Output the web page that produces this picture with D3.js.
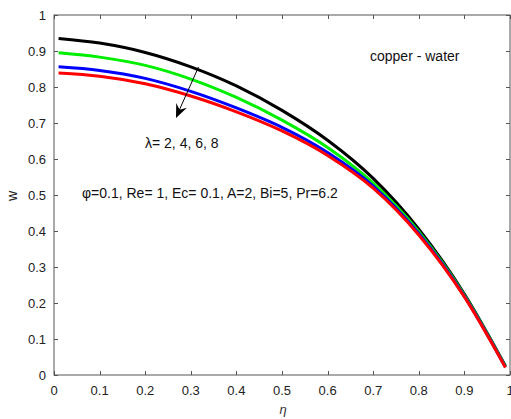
<!DOCTYPE html>
<html><head><meta charset="utf-8">
<script src="https://cdn.jsdelivr.net/npm/d3@7"></script>
<style>body{margin:0;background:#fff}svg{display:block}text{font-family:"Liberation Sans",Arial,sans-serif}</style>
</head><body>
<svg id="c" width="511" height="419"></svg>
<script>
const eta = [0.01,0.1,0.2,0.3,0.4,0.5,0.6,0.7,0.8,0.9,0.99];
const wBlack = [0.935,0.922,0.896,0.856,0.803,0.735,0.652,0.546,0.405,0.225,0.025];
const wGreen = [0.895,0.883,0.860,0.822,0.771,0.708,0.632,0.533,0.398,0.222,0.024];
const wBlue  = [0.856,0.846,0.824,0.788,0.742,0.688,0.618,0.525,0.393,0.219,0.022];
const wRed   = [0.839,0.830,0.809,0.775,0.731,0.678,0.610,0.519,0.389,0.217,0.021];
const xTicks = [0,0.1,0.2,0.3,0.4,0.5,0.6,0.7,0.8,0.9,1];
const yTicks = [0,0.1,0.2,0.3,0.4,0.5,0.6,0.7,0.8,0.9,1];
const seriesColors = ["#000000","#00ee00","#0000ff","#ff0000"];
const series = [wBlack,wGreen,wBlue,wRed];

const svg = d3.select("#c");
const L=54, R=510, T=15, B=375;
const x = d3.scaleLinear().domain([0,1]).range([L,R]);
const y = d3.scaleLinear().domain([0,1]).range([B,T]);
const axisCol="#555";

// box
svg.append("rect").attr("x",L).attr("y",T).attr("width",R-L).attr("height",B-T)
  .attr("fill","none").attr("stroke",axisCol).attr("stroke-width",1);

// ticks
const tl=4;
xTicks.forEach(t=>{
  const px=Math.round(x(t))+0.5;
  svg.append("line").attr("x1",px).attr("x2",px).attr("y1",B).attr("y2",B-tl).attr("stroke",axisCol);
  svg.append("line").attr("x1",px).attr("x2",px).attr("y1",T).attr("y2",T+tl).attr("stroke",axisCol);
  svg.append("text").attr("x",x(t)).attr("y",395).attr("text-anchor","middle")
    .attr("font-size",13).attr("fill","#222").text(d3.format("")(t));
});
yTicks.forEach(t=>{
  const py=Math.round(y(t))+0.5;
  svg.append("line").attr("x1",L).attr("x2",L+tl).attr("y1",py).attr("y2",py).attr("stroke",axisCol);
  svg.append("line").attr("x1",R).attr("x2",R-tl).attr("y1",py).attr("y2",py).attr("stroke",axisCol);
  svg.append("text").attr("x",46).attr("y",y(t)+4.5).attr("text-anchor","end")
    .attr("font-size",13).attr("fill","#222").text(d3.format("")(t));
});

// curves
const line = d3.line().x(d=>x(d[0])).y(d=>y(d[1])).curve(d3.curveMonotoneX);
series.forEach((s,i)=>{
  svg.append("path").attr("d",line(eta.map((e,j)=>[e,s[j]])))
    .attr("fill","none").attr("stroke",seriesColors[i]).attr("stroke-width",3)
    .attr("stroke-linejoin","round");
});

// arrow
const ax1=198.5, ay1=67, ax2=176, ay2=118;
svg.append("line").attr("x1",ax1).attr("y1",ay1).attr("x2",ax2+2).attr("y2",ay2-5).attr("stroke","#000").attr("stroke-width",1);
{
  const ang=Math.atan2(ay2-ay1,ax2-ax1), len=15, w=0.4;
  const p1=[ax2-len*Math.cos(ang-w), ay2-len*Math.sin(ang-w)];
  const p2=[ax2-len*Math.cos(ang+w), ay2-len*Math.sin(ang+w)];
  const pm=[ax2-9*Math.cos(ang), ay2-9*Math.sin(ang)];
  svg.append("path").attr("d",`M${ax2},${ay2}L${p1}L${pm}L${p2}Z`).attr("fill","#000");
}

// annotations
svg.append("text").attr("x",145).attr("y",148).attr("font-size",14).attr("fill","#111").text("λ= 2, 4, 6, 8");
svg.append("text").attr("x",370).attr("y",61).attr("font-size",14).attr("fill","#111").text("copper - water");
svg.append("text").attr("x",82).attr("y",198).attr("font-size",14).attr("fill","#111").text("φ=0.1, Re= 1, Ec= 0.1, A=2, Bi=5, Pr=6.2");

// axis labels
svg.append("text").attr("x",283).attr("y",414).attr("text-anchor","middle").attr("font-size",13)
  .attr("font-style","italic").attr("font-family","DejaVu Serif, serif").attr("fill","#333").text("η");
svg.append("text").attr("transform","translate(17,196) rotate(-90)").attr("text-anchor","middle")
  .attr("font-size",14).attr("fill","#222").text("w");
</script>
</body></html>
